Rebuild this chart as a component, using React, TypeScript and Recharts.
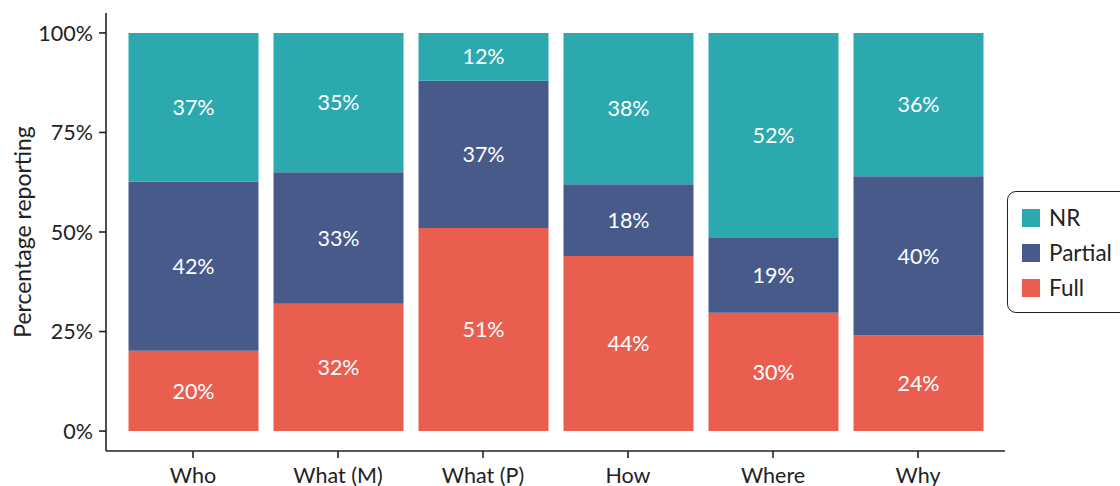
import React from "react";
import { BarChart, Bar, XAxis, YAxis, Legend, LabelList } from "recharts";

const categories = ["Who", "What (M)", "What (P)", "How", "Where", "Why"];
const fullValues = [20, 32, 51, 44, 30, 24];
const partialValues = [42, 33, 37, 18, 19, 40];
const nrValues = [37, 35, 12, 38, 52, 36];
const yTicks = [0, 0.25, 0.5, 0.75, 1];

const COLORS = { NR: "#2CA9AE", Partial: "#485A8A", Full: "#EA5E50" };
const FONT = "Lato, 'Open Sans', sans-serif";
const TICK_FS = 21.5;
const LABEL_FS = 21.5;

const data = categories.map((c, i) => {
  const total = fullValues[i] + partialValues[i] + nrValues[i];
  return {
    name: c,
    Full: fullValues[i],
    Partial: partialValues[i],
    NR: nrValues[i],
    FullShare: fullValues[i] / total,
    PartialShare: partialValues[i] / total,
    NRShare: nrValues[i] / total,
  };
});

const legendItems = [
  { key: "NR", color: COLORS.NR },
  { key: "Partial", color: COLORS.Partial },
  { key: "Full", color: COLORS.Full },
];

const LegendBox = () => (
  <div
    style={{
      width: 130,
      height: 122,
      border: "1.5px solid #222",
      borderRadius: 9,
      boxSizing: "border-box",
      paddingTop: 8,
      paddingLeft: 14,
      fontFamily: FONT,
      fontSize: 22.5,
      color: "#222",
      background: "#fff",
    }}
  >
    {legendItems.map((it) => (
      <div key={it.key} style={{ display: "flex", alignItems: "center", height: 35 }}>
        <div style={{ width: 18, height: 18, background: it.color, marginRight: 9 }} />
        <span>{it.key}</span>
      </div>
    ))}
  </div>
);

const YLabel = (props: any) => {
  const vb = props.viewBox || { x: 0, y: 0, width: 0, height: 0 };
  const cx = 22;
  const cy = vb.y + vb.height / 2;
  return (
    <text
      x={cx}
      y={cy}
      transform={`rotate(-90, ${cx}, ${cy})`}
      textAnchor="middle"
      dominantBaseline="central"
      fill="#222"
      fontSize={23}
      fontFamily={FONT}
    >
      Percentage reporting
    </text>
  );
};

const labelFmt = (v: any) => `${v}%`;

export default function App() {
  return (
    <div style={{ position: "absolute", left: 0, top: 0, background: "#fff" }}>
      <BarChart
        width={1120}
        height={486}
        data={data}
        margin={{ top: 13, right: 115, bottom: 0, left: 0 }}
      >
        <XAxis
          dataKey="name"
          height={35}
          padding={{ left: 14.5, right: 14.5 }}
          axisLine={{ stroke: "#222", strokeWidth: 1.6 }}
          tickLine={{ stroke: "#222", strokeWidth: 1.6 }}
          tickSize={7}
          tickMargin={10}
          tick={{ fill: "#222", fontSize: TICK_FS, fontFamily: FONT }}
          interval={0}
        />
        <YAxis
          type="number"
          width={106}
          domain={[-0.05, 1.05]}
          ticks={yTicks}
          allowDataOverflow
          tickFormatter={(v: number) => `${Math.round(v * 100)}%`}
          axisLine={{ stroke: "#222", strokeWidth: 1.6 }}
          tickLine={{ stroke: "#222", strokeWidth: 1.6 }}
          tickSize={7}
          tickMargin={6}
          tick={{ fill: "#222", fontSize: TICK_FS, fontFamily: FONT }}
          label={<YLabel />}
        />
        <Legend
          layout="horizontal"
          align="center"
          verticalAlign="middle"
          content={<LegendBox />}
          wrapperStyle={{ left: 1007, top: 191, width: 130, height: 122 }}
        />
        <Bar dataKey="FullShare" name="Full" stackId="a" fill={COLORS.Full} barSize={130} isAnimationActive={false}>
          <LabelList dataKey="Full" position="center" formatter={labelFmt} fill="#fff" fontSize={LABEL_FS} fontFamily={FONT} />
        </Bar>
        <Bar dataKey="PartialShare" name="Partial" stackId="a" fill={COLORS.Partial} barSize={130} isAnimationActive={false}>
          <LabelList dataKey="Partial" position="center" formatter={labelFmt} fill="#fff" fontSize={LABEL_FS} fontFamily={FONT} />
        </Bar>
        <Bar dataKey="NRShare" name="NR" stackId="a" fill={COLORS.NR} barSize={130} isAnimationActive={false}>
          <LabelList dataKey="NR" position="center" formatter={labelFmt} fill="#fff" fontSize={LABEL_FS} fontFamily={FONT} />
        </Bar>
      </BarChart>
    </div>
  );
}
